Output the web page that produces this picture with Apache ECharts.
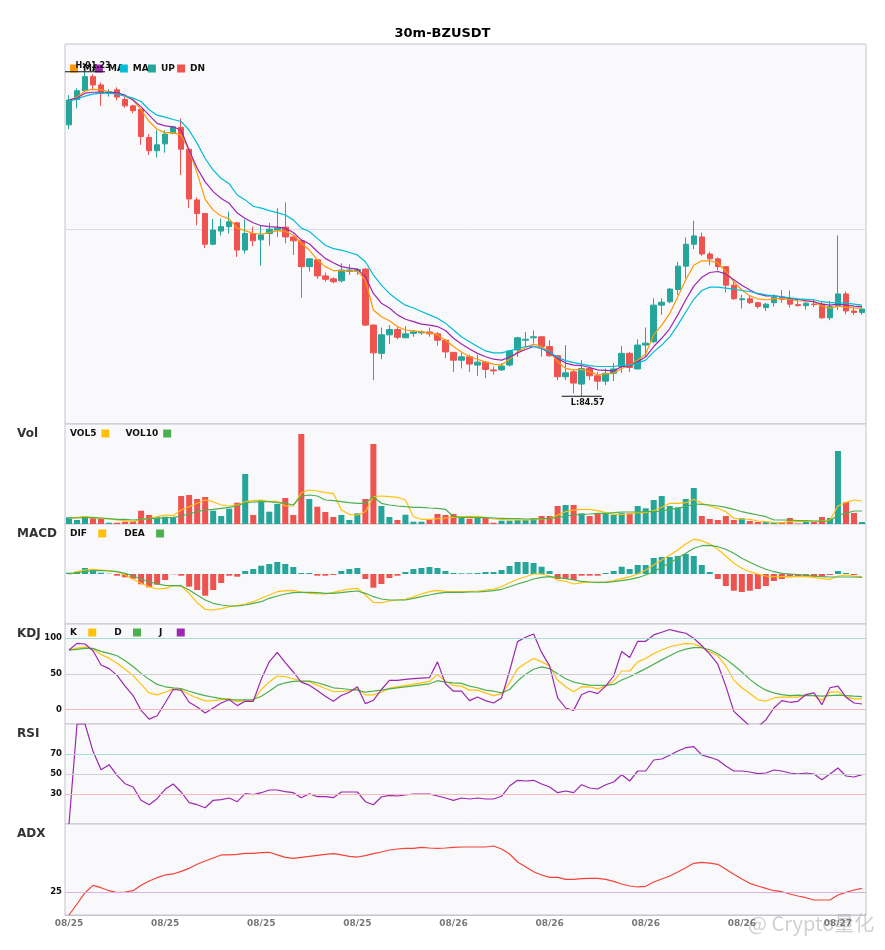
<!DOCTYPE html>
<html>
<head>
<meta charset="utf-8">
<title>30m-BZUSDT</title>
<script src="https://cdn.jsdelivr.net/npm/echarts@6/dist/echarts.min.js"></script>
<style>
  html, body { margin: 0; padding: 0; background: #fff; }
  #chart { width: 885px; height: 950px; }
</style>
</head>
<body>
<div id="chart"></div>
<script>
// 30 minute candles, 08/25 00:00 onwards
const dates = [];
for (let i = 0; i < 100; i++) {
  const day = 25 + Math.floor(i / 48);
  const mins = (i % 48) * 30;
  const hh = String(Math.floor(mins / 60)).padStart(2, '0');
  const mm = String(mins % 60).padStart(2, '0');
  dates.push('08/' + day + ' ' + hh + ':' + mm);
}

const opens = [90.14,90.66,90.84,91.13,90.96,90.79,90.86,90.66,90.53,90.46,
  89.88,89.61,89.75,89.97,90.09,89.64,88.60,88.32,87.69,87.96,
  88.05,88.13,87.57,87.91,87.78,87.91,87.98,88.04,87.84,87.76,
  87.23,87.37,87.04,86.98,86.94,87.13,87.14,87.18,86.03,85.45,
  85.83,85.94,85.77,85.86,85.87,85.89,85.85,85.72,85.47,85.31,
  85.38,85.21,85.27,85.11,85.11,85.21,85.52,85.72,85.77,85.79,
  85.59,85.40,84.97,85.07,84.82,85.14,84.99,84.88,85.04,85.18,
  85.45,85.13,85.62,85.69,86.44,86.51,86.76,87.24,87.69,87.84,
  87.49,87.39,87.23,86.85,86.55,86.57,86.49,86.39,86.49,86.60,
  86.56,86.45,86.43,86.46,86.46,86.18,86.42,86.67,86.32,86.29];
const closes = [90.65,90.84,91.13,90.96,90.79,90.82,90.71,90.53,90.43,89.90,
  89.61,89.73,89.95,90.10,89.64,88.62,88.32,87.69,87.98,88.05,
  88.15,87.57,87.91,87.76,87.88,88.00,88.02,87.84,87.76,87.23,
  87.39,87.04,86.97,86.92,87.16,87.16,87.17,86.03,85.46,85.83,
  85.94,85.78,85.85,85.89,85.89,85.85,85.72,85.48,85.31,85.38,
  85.23,85.27,85.12,85.09,85.19,85.50,85.77,85.74,85.79,85.59,
  85.40,84.97,85.05,84.84,85.14,84.99,84.88,85.04,85.13,85.45,
  85.16,85.62,85.66,86.44,86.50,86.77,87.24,87.69,87.86,87.49,
  87.39,87.23,86.85,86.57,86.57,86.49,86.41,86.46,86.60,86.56,
  86.46,86.43,86.48,86.45,86.18,86.41,86.67,86.32,86.29,86.36];
const lows = [90.05,90.48,90.82,90.87,90.53,90.72,90.64,90.49,90.38,89.73,
  89.52,89.47,89.57,89.95,89.11,88.43,88.08,87.61,87.67,87.87,
  87.91,87.43,87.50,87.65,87.25,87.66,87.84,87.71,87.47,86.59,
  87.13,86.98,86.92,86.89,86.90,87.06,87.06,86.01,84.90,85.33,
  85.64,85.74,85.76,85.79,85.83,85.79,85.61,85.35,85.07,85.14,
  85.07,84.99,84.94,85.01,85.09,85.18,85.38,85.59,85.66,85.38,
  85.38,84.90,84.90,84.63,84.57,84.90,84.70,84.80,84.88,85.05,
  85.07,85.12,85.38,85.66,86.24,86.48,86.65,86.99,87.59,87.45,
  87.26,87.16,86.70,86.55,86.37,86.46,86.37,86.32,86.41,86.49,
  86.39,86.41,86.35,86.40,86.16,86.13,86.34,86.25,86.24,86.24];
const highs = [90.75,90.89,91.23,91.18,91.01,90.87,90.91,90.71,90.55,90.48,
  89.95,90.03,90.03,90.12,90.27,89.65,88.65,88.32,88.21,88.22,
  88.36,88.15,88.20,88.05,88.08,88.13,88.43,88.55,87.86,87.78,
  87.40,87.38,87.11,87.01,87.30,87.28,87.20,87.20,86.05,85.98,
  86.03,86.00,86.01,85.93,85.92,85.98,85.89,85.74,85.48,85.46,
  85.42,85.42,85.29,85.18,85.25,85.52,85.79,85.89,85.92,85.80,
  85.72,85.42,85.62,85.11,85.31,85.18,85.07,85.14,85.25,85.60,
  85.48,85.74,85.98,86.58,86.58,86.79,87.33,87.83,88.17,87.93,
  87.54,87.42,87.24,86.92,86.65,86.65,86.51,86.48,86.66,86.75,
  86.74,86.55,86.50,86.55,86.51,86.53,87.87,86.72,86.40,86.40];

const ma5 = [90.65,90.71,90.84,90.87,90.86,90.82,90.79,90.73,90.65,90.45,
  90.21,90.05,89.98,89.98,89.93,89.62,89.15,88.61,88.39,88.27,
  88.21,88.02,87.97,87.91,87.90,87.93,87.97,87.95,87.88,87.71,
  87.57,87.37,87.23,87.15,87.15,87.14,87.14,86.96,86.34,86.20,
  86.12,86.00,85.93,85.91,85.89,85.87,85.83,85.72,85.59,85.48,
  85.38,85.33,85.27,85.23,85.21,85.33,85.48,85.57,85.64,85.59,
  85.48,85.28,85.14,85.11,85.12,85.07,85.01,85.03,85.04,85.14,
  85.21,85.31,85.44,85.83,86.03,86.27,86.61,86.96,87.26,87.35,
  87.35,87.31,87.13,86.92,86.75,86.63,86.57,86.55,86.57,86.58,
  86.56,86.53,86.52,86.51,86.42,86.38,86.42,86.40,86.38,86.38];
const ma10 = [90.65,90.69,90.79,90.81,90.81,90.81,90.80,90.75,90.65,90.51,
  90.34,90.17,90.12,90.10,90.03,89.62,89.25,88.97,88.77,88.63,
  88.53,88.33,88.22,88.13,88.07,88.05,88.04,88.02,87.93,87.78,
  87.70,87.54,87.40,87.31,87.23,87.20,87.18,87.02,86.68,86.48,
  86.38,86.24,86.15,86.10,86.05,86.03,86.00,85.92,85.76,85.64,
  85.54,85.45,85.38,85.33,85.31,85.37,85.46,85.53,85.59,85.55,
  85.46,85.35,85.25,85.21,85.20,85.16,85.11,85.10,85.09,85.18,
  85.19,85.28,85.38,85.59,85.76,85.96,86.24,86.55,86.83,87.01,
  87.11,87.13,87.08,86.96,86.85,86.75,86.67,86.63,86.63,86.61,
  86.58,86.56,86.53,86.51,86.46,86.44,86.46,86.44,86.42,86.41];
const ma20 = [90.63,90.67,90.73,90.77,90.79,90.79,90.77,90.73,90.69,90.62,
  90.45,90.34,90.30,90.25,90.21,90.03,89.76,89.45,89.21,89.04,
  88.93,88.70,88.60,88.47,88.43,88.38,88.34,88.29,88.19,88.02,
  87.95,87.81,87.67,87.60,87.57,87.52,87.47,87.33,87.06,86.85,
  86.68,86.55,86.44,86.38,86.31,86.24,86.17,86.07,85.93,85.79,
  85.69,85.59,85.50,85.46,85.46,85.50,85.55,85.59,85.60,85.55,
  85.48,85.37,85.30,85.26,85.23,85.20,85.18,85.18,85.18,85.21,
  85.21,85.25,85.31,85.48,85.62,85.79,86.03,86.30,86.56,86.74,
  86.81,86.81,86.79,86.77,86.74,86.72,86.68,86.65,86.63,86.61,
  86.59,86.57,86.56,86.55,86.51,86.49,86.49,86.48,86.46,86.44];

const vols = [6.7,4,8,5.7,5.7,1.3,1.3,2.3,3,13.3,
  9,6.7,7.3,6.7,28,29,25,27,13.3,8,
  15.3,21.3,50,9,24,12.3,20,26,9,90,
  25,17.3,12,7,9,4,10.7,25,80,18,
  7,4,9.3,2.3,2.3,4,10,9,10,6.3,
  5.3,7.3,6,1.3,3.3,3.3,4,4,5.7,8,
  8,18,19,19,10.7,8,10.7,10,9,11.3,
  10.7,18,15.7,24,28,18,16.7,25,36,8,
  5,4,8,4,5.7,3,2,2,1,1,
  6,0.5,2,2,7,6,73,22,11,2];
const vol5 = [5.7,6.7,7.3,6.7,5.7,5,4,3.3,2.3,4.7,
  5.7,7.3,9,8.3,14,17.3,20.7,24,22.3,19,
  18,19,22.3,23.3,24,22.3,23,18,18,31.3,
  34,33,31.3,30.7,14,9.7,9,12.3,27.3,28,
  27.3,26.7,24,7.3,4.7,4.7,5.3,6,6.7,7.3,
  7.7,7.7,6.7,5,4.7,4,4,4,4.3,5,
  5.7,9,12.3,14,14.7,14.7,13.3,11.3,9.7,9.7,
  10,11.3,11.3,13.3,16.7,20.7,20.7,21.3,24.7,20.7,
  18,15.7,12.3,5.7,5,4.7,3,2.3,1.7,1.3,
  2.3,2.3,2.7,3,3,4,18,21.7,24,23];
const vol10 = [6.3,6,6.3,6.3,6,5.3,4.7,4.7,4,4.7,
  5.3,5.7,6.3,6.7,8,10,12.3,14,14.7,15.7,
  16.7,18,21.3,22,22.3,22.3,21.3,20.7,19,28,
  29,28,24,23.3,22.3,21.3,20.7,20.7,27.3,20.7,
  19,18,17.3,16.7,16.7,16,15.7,14.7,7.3,6.7,
  6.7,6.3,6.3,6,5.7,5.3,5.3,5,5,5.3,
  5.7,6.3,8,9,9.7,10,10.7,10.7,11.3,12,
  12,12,12.3,12.3,13,14.7,15.7,17.3,20,19.7,
  19,18,16.7,14.7,12.3,10.7,9,7.3,4,4,
  4,3.3,3.3,3,2.7,3,9,10.7,13,13];

const macdHist = [0.013,0.023,0.06,0.04,0.013,0.003,-0.017,-0.033,-0.047,-0.103,
  -0.133,-0.107,-0.06,-0.003,-0.017,-0.127,-0.16,-0.217,-0.16,-0.09,
  -0.017,-0.027,0.03,0.05,0.083,0.1,0.12,0.1,0.07,0.01,
  0.01,-0.017,-0.017,-0.01,0.03,0.05,0.06,-0.05,-0.137,-0.1,
  -0.04,-0.017,0.02,0.05,0.06,0.07,0.06,0.03,0.01,0.007,
  0.007,0.01,0.02,0.02,0.04,0.08,0.12,0.12,0.11,0.073,
  0.03,-0.05,-0.05,-0.06,-0.017,-0.017,-0.017,0.01,0.03,0.073,
  0.05,0.09,0.09,0.16,0.17,0.17,0.18,0.2,0.18,0.09,
  0.02,-0.05,-0.12,-0.167,-0.18,-0.167,-0.15,-0.12,-0.07,-0.05,
  -0.033,-0.027,-0.027,-0.027,-0.027,-0.01,0.03,0.01,-0.01,0];
const dif = [0,0.023,0.04,0.047,0.04,0.033,0.023,-0.01,-0.053,-0.093,
  -0.127,-0.15,-0.143,-0.12,-0.12,-0.193,-0.287,-0.353,-0.36,-0.347,
  -0.327,-0.317,-0.3,-0.277,-0.243,-0.21,-0.177,-0.167,-0.163,-0.18,
  -0.193,-0.197,-0.2,-0.183,-0.167,-0.15,-0.143,-0.21,-0.283,-0.287,
  -0.27,-0.26,-0.253,-0.227,-0.2,-0.177,-0.163,-0.173,-0.177,-0.177,
  -0.173,-0.17,-0.16,-0.153,-0.127,-0.087,-0.053,-0.027,0,0,
  -0.02,-0.06,-0.073,-0.1,-0.087,-0.08,-0.087,-0.08,-0.067,-0.047,
  -0.027,0,0.04,0.09,0.14,0.19,0.24,0.3,0.347,0.333,
  0.3,0.247,0.18,0.107,0.057,0.023,0,-0.02,-0.027,-0.027,
  -0.027,-0.027,-0.027,-0.033,-0.047,-0.053,-0.02,-0.01,-0.02,-0.027];
const dea = [0,0.013,0.023,0.033,0.033,0.03,0.023,0.007,-0.02,-0.05,
  -0.077,-0.1,-0.113,-0.117,-0.117,-0.16,-0.21,-0.26,-0.293,-0.31,
  -0.32,-0.32,-0.31,-0.293,-0.277,-0.243,-0.22,-0.2,-0.187,-0.183,
  -0.183,-0.187,-0.193,-0.193,-0.187,-0.177,-0.17,-0.193,-0.227,-0.25,
  -0.26,-0.26,-0.26,-0.243,-0.227,-0.21,-0.193,-0.183,-0.183,-0.183,
  -0.18,-0.18,-0.173,-0.167,-0.153,-0.127,-0.1,-0.077,-0.05,-0.033,
  -0.027,-0.033,-0.047,-0.06,-0.073,-0.08,-0.083,-0.083,-0.077,-0.067,
  -0.053,-0.037,-0.01,0.023,0.067,0.113,0.157,0.207,0.257,0.283,
  0.287,0.273,0.247,0.207,0.157,0.117,0.08,0.047,0.023,0.007,
  0,-0.007,-0.013,-0.02,-0.027,-0.03,-0.03,-0.03,-0.03,-0.033];

const kLine = [83.5,86.3,87.7,84.9,77.4,72.2,65.1,56.6,48.1,35.4,
  23.6,20.8,24.5,29.2,28.3,21.2,16.5,12.3,12.7,14.2,
  15.6,11.3,12.7,12.7,28.3,38.7,47.2,46.2,43.4,40.1,
  39.2,34.4,29.7,25.5,25.5,26.4,29.2,20.8,20.8,24.5,
  30.2,32.1,34,35.8,37.7,39.6,49.1,40.1,34,33,
  27.4,27.4,23.6,19.8,22.6,37.7,57.5,65.1,71.7,67,
  61.3,41.5,32.1,25,32.1,32.1,29.2,33,40.1,54.2,
  54.2,67,71.7,78.8,83.5,88.2,90.6,92.9,92,87.3,
  81.1,75.5,61.3,41.5,30.7,22.6,14.2,11.8,16.5,17.5,
  17.5,17.5,20.8,19.8,13.2,24.5,25,17.9,15.1,15.1];
const dLine = [83.5,84.4,85.8,85.8,81.6,78.8,75.5,68.4,60.4,50.9,
  42.5,35.4,32.1,30.7,29.7,25.9,22.6,19.8,17.5,15.6,
  14.2,13.7,13.7,14.2,18.9,25.9,34,37.7,39.6,40.1,
  40.1,37.7,34.4,30.7,29.7,28.3,27.4,24.5,25.9,27.4,
  29.2,30.7,32.1,33.5,34.9,36.3,40.6,38.7,37.7,36.8,
  33,30.7,27.4,25.9,23.6,28.3,40.1,49.5,56.6,59.9,
  57.5,50.5,43.4,38.7,36.3,34.4,34,34,35.4,41.5,
  46.2,51.9,57.5,63.7,69.8,75.5,81.1,84.9,86.8,86.8,
  84,78.3,70.8,62.3,52.8,42.5,34,27.4,23.6,21.2,
  19.8,20.3,19.8,19.8,18.9,19.8,20.3,19.8,18.9,18.4];
const jLine = [83.5,92.9,92,82.5,62.7,57.5,48.1,33,19.8,-0.9,
  -13.2,-8.5,9.4,28.3,27.4,10.4,3.8,-4.7,2.4,9.4,
  14.2,5.7,11.8,11.8,42.5,67,80.2,66,52.8,38.7,
  34.4,26.9,18.9,11.8,19.8,24.5,32.1,8.5,13.2,28.3,
  41,41,42.5,43.4,44.3,44.8,67,36.3,25.9,25.9,
  12.7,17.9,12.7,9.4,16.5,54.2,95.3,101.4,106.1,80.2,
  61.3,16.5,2.4,-0.9,21.2,25.9,22.6,33,47.2,81.6,
  73.1,95.8,95.8,104.7,108.5,112.3,109.4,107.1,100,89.6,
  77.8,63.7,33,-2.4,-12.7,-23,-24,-14.2,2.4,12.7,
  10.4,11.8,21.2,23.6,7.1,30.7,33,17.5,9.4,8];

const rsi = [0,100,100,72.7,54.3,59.3,48.7,40.3,37,23.7,
  19.3,25.3,34.7,40,32,21.3,19.3,16.3,23.7,24.3,
  26,22.3,30.3,29.3,31.3,34,34,32.3,31.3,26.3,
  30.3,27.3,27.3,26.3,32,32,32,22.3,19.3,27,
  28.7,28,29,30,30,30,28,26,23.7,26,
  25,26,25,25,27.7,38,43.7,43,43.7,40,
  37,31.3,33,31.3,39.3,36,35,39.3,42,49.3,
  43,53,53,64,65,68.7,73,76.3,77.3,69,
  66.7,64,58,53,53,52,50.3,51,54,53,
  51,50,51,50,44.3,50,56,48,47,49.3];
const adx = [0,12.1,24.5,32.6,30,26.7,24.5,25.3,26.7,32.6,
  37.4,41,44,45.1,48,51.3,55.7,59.3,62.6,66,
  66,66.7,67.8,67.8,68.5,68.9,66,63.4,62.3,63.4,
  64.5,65.6,66.7,67.4,66,64.5,63.7,65.2,67.4,69.2,
  71.4,72.5,73.3,73.3,74.4,73.6,73.3,73.6,74.4,74.7,
  74.7,74.7,74.7,75.8,72.5,67,58.2,53.1,47.6,44,
  41.4,41.4,39.2,39.2,39.9,40.3,40.3,39.2,37,34.1,
  31.9,30.8,31.5,36.3,39.6,42.9,47.3,52,56.8,57.9,
  57.1,55.7,50.2,44.7,39.6,34.8,31.9,29.3,26.7,25.6,
  23.1,20.9,19,16.5,16.5,16.5,22,24.9,27.5,29.3];

const kdjTicks = [0, 50, 100];
const rsiTicks = [30, 50, 70];
const adxTicks = [25];

const UP = '#26a69a', DN = '#ef5350';
const FONT = 'DejaVu Sans';

const chart = echarts.init(document.getElementById('chart'));

const candles = dates.map((d, i) => [opens[i], closes[i], lows[i], highs[i]]);
const volBars = vols.map((v, i) => ({
  value: v, itemStyle: { color: closes[i] >= opens[i] ? UP : DN }
}));
const histBars = macdHist.map(v => ({
  value: v, itemStyle: { color: v >= 0 ? UP : DN }
}));

const gridDefs = [[44, 380], [424, 100], [524, 100], [624, 100], [724, 100], [824, 91]];
const grids = gridDefs.map(g => ({
  left: 65, right: 19, top: g[0], height: g[1],
  show: true, backgroundColor: '#f9f9fb', borderColor: '#c4c4cc', borderWidth: 1
}));

const xAxes = gridDefs.map((g, k) => ({
  type: 'category', gridIndex: k, data: dates, boundaryGap: true,
  axisLine: { show: k === 5, lineStyle: { color: '#c4c4cc' } },
  axisTick: { show: false },
  splitLine: { show: false },
  axisLabel: {
    show: k === 5, interval: 11, margin: 4,
    formatter: v => v.slice(0, 5),
    color: '#777', fontWeight: 'bold', fontSize: 9, fontFamily: FONT
  }
}));

function tickLabels(list) {
  return {
    show: true, margin: 3, color: '#111', fontWeight: 'bold', fontSize: 8.5, fontFamily: FONT,
    formatter: v => list.indexOf(Math.round(v)) >= 0 && Math.abs(v - Math.round(v)) < 1e-6 ? String(Math.round(v)) : ''
  };
}
const hiddenY = { axisLine: { show: false }, axisTick: { show: false }, splitLine: { show: false } };
const yAxes = [
  Object.assign({ type: 'value', gridIndex: 0, min: 84, max: 91.8, interval: 4, axisLabel: { show: false } }, hiddenY,
    { splitLine: { show: true, lineStyle: { color: '#dcdce6' } } }),
  Object.assign({ type: 'value', gridIndex: 1, min: 0, max: 100, axisLabel: { show: false } }, hiddenY),
  Object.assign({ type: 'value', gridIndex: 2, min: -0.5, max: 0.5, axisLabel: { show: false } }, hiddenY),
  Object.assign({ type: 'value', gridIndex: 3, min: -20, max: 120, interval: 10, axisLabel: tickLabels(kdjTicks) }, hiddenY),
  Object.assign({ type: 'value', gridIndex: 4, min: 0, max: 100, interval: 10, axisLabel: tickLabels(rsiTicks) }, hiddenY),
  Object.assign({ type: 'value', gridIndex: 5, min: 0, max: 100, interval: 5, axisLabel: tickLabels(adxTicks) }, hiddenY)
];

function line(name, data, color, k) {
  return {
    name, type: 'line', data, xAxisIndex: k, yAxisIndex: k,
    symbol: 'none', showSymbol: false, silent: true,
    itemStyle: { color }, lineStyle: { color, width: 1.2 }
  };
}
function levels(list) {
  return {
    symbol: 'none', silent: true, label: { show: false },
    data: list.map(l => ({ yAxis: l[0], lineStyle: { color: l[1], type: 'solid', width: 1 } }))
  };
}

const kSeries = line('K', kLine, '#ffc107', 3);
kSeries.markLine = levels([[100, '#a8dcd6'], [50, '#cfcfd6'], [0, '#f7b9b9']]);
const rsiSeries = line('RSI', rsi, '#9c27b0', 4);
rsiSeries.markLine = levels([[70, '#a8dcd6'], [50, '#cfcfd6'], [30, '#f7b9b9']]);
const adxSeries = line('ADX', adx, '#f44336', 5);
adxSeries.markLine = levels([[25, '#dcb0e4']]);

const legendBase = {
  orient: 'horizontal', padding: 0, icon: 'rect', itemWidth: 8, itemHeight: 8,
  selectedMode: false, textStyle: { color: '#111', fontWeight: 'bold', fontSize: 9, fontFamily: FONT }
};
const mainLegendText = { MA5: 'MA', MA10: 'MA', MA20: 'MA ', UP: 'UP  ', DN: 'DN' };
const panelTitle = (text, top) => ({
  text, left: 17, top, padding: 0,
  textStyle: { fontSize: 12, fontWeight: 'bold', color: '#333', fontFamily: FONT }
});

chart.setOption({
  animation: false,
  backgroundColor: '#fff',
  textStyle: { fontFamily: FONT },
  title: [
    { text: '30m-BZUSDT', left: 'center', top: 27, padding: 0,
      textStyle: { fontSize: 13, fontWeight: 'bold', color: '#000', fontFamily: FONT } },
    panelTitle('Vol', 428),
    panelTitle('MACD', 528),
    panelTitle('KDJ', 628),
    panelTitle('RSI', 728),
    panelTitle('ADX', 828)
  ],
  legend: [
    Object.assign({}, legendBase, { left: 70, top: 64, itemGap: -4,
      data: ['MA5', 'MA10', 'MA20', 'UP', 'DN'],
      formatter: n => mainLegendText[n] }),
    Object.assign({}, legendBase, { left: 70, top: 429, align: 'right', itemGap: 16,
      data: ['VOL5', 'VOL10'] }),
    Object.assign({}, legendBase, { left: 70, top: 529, align: 'right', itemGap: 18,
      data: ['DIF', 'DEA'], formatter: n => n + '  ' }),
    Object.assign({}, legendBase, { left: 70, top: 628, align: 'right', itemGap: 18,
      data: ['K', 'D', 'J'], formatter: n => n === 'J' ? n + '   ' : n + '  ' })
  ],
  grid: grids,
  xAxis: xAxes,
  yAxis: yAxes,
  graphic: [{
    type: 'text', left: 748, top: 913, silent: true,
    style: { text: '@ Crypto量化', fill: 'rgba(150,150,150,0.45)', font: '20px "Noto Sans CJK SC"' }
  }],
  series: [
    {
      name: 'BZUSDT', type: 'candlestick', data: candles, xAxisIndex: 0, yAxisIndex: 0,
      barWidth: 6, silent: true,
      itemStyle: { color: UP, color0: DN, borderColor: UP, borderColor0: DN, borderWidth: 1 },
      markPoint: {
        symbol: 'rect', symbolSize: [40, 1], silent: true,
        itemStyle: { color: '#111' },
        label: { color: '#111', fontWeight: 'bold', fontSize: 8, fontFamily: FONT },
        data: [
          { type: 'max', valueDim: 'highest',
            label: { position: 'top', distance: 1, offset: [8, 0], formatter: p => 'H:' + Number(p.value).toFixed(2) } },
          { type: 'min', valueDim: 'lowest',
            label: { position: 'bottom', distance: 2, offset: [6, 0], formatter: p => 'L:' + Number(p.value).toFixed(2) } }
        ]
      }
    },
    line('MA5', ma5, '#ff9800', 0),
    line('MA10', ma10, '#9c27b0', 0),
    line('MA20', ma20, '#00bcd4', 0),
    { name: 'UP', type: 'bar', data: [], xAxisIndex: 0, yAxisIndex: 0, itemStyle: { color: UP } },
    { name: 'DN', type: 'bar', data: [], xAxisIndex: 0, yAxisIndex: 0, itemStyle: { color: DN } },

    { name: 'Vol', type: 'bar', data: volBars, xAxisIndex: 1, yAxisIndex: 1, barWidth: 6, silent: true },
    line('VOL5', vol5, '#ffc107', 1),
    line('VOL10', vol10, '#4caf50', 1),

    { name: 'MACD', type: 'bar', data: histBars, xAxisIndex: 2, yAxisIndex: 2, barWidth: 6, silent: true },
    line('DIF', dif, '#ffc107', 2),
    line('DEA', dea, '#4caf50', 2),

    kSeries,
    line('D', dLine, '#4caf50', 3),
    line('J', jLine, '#9c27b0', 3),

    rsiSeries,
    adxSeries
  ]
});
</script>
</body>
</html>
